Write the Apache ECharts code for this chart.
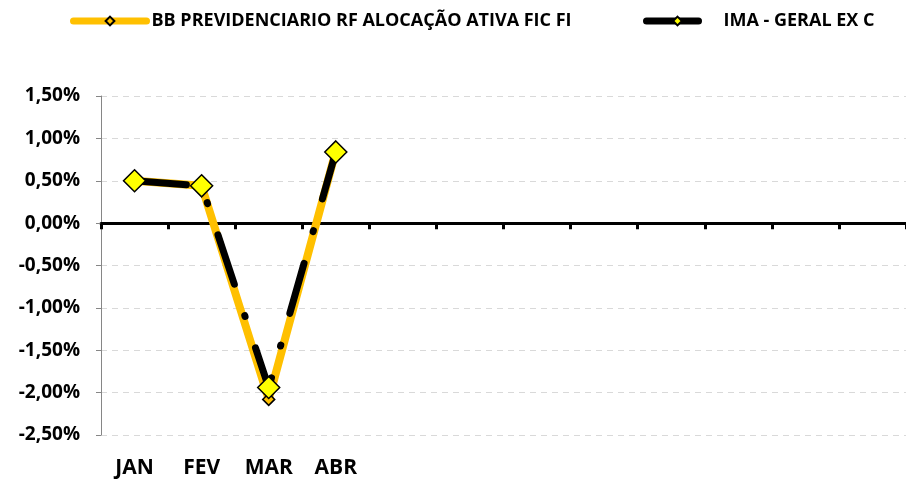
<!DOCTYPE html>
<html>
<head>
<meta charset="utf-8">
<script src="https://cdn.jsdelivr.net/npm/echarts@6/dist/echarts.min.js"></script>
<style>
  html, body { margin: 0; padding: 0; background: #fff; }
  #chart { width: 906px; height: 479px; }
</style>
</head>
<body>
<div id="chart"></div>
<script>
var months = ["JAN", "FEV", "MAR", "ABR", "", "", "", "", "", "", "", ""];
var bbName = "BB PREVIDENCIARIO RF ALOCAÇÃO ATIVA FIC FI";
var imaName = "IMA - GERAL EX C";
var bbValues = [0.50, 0.44, -2.08, 0.85];
var imaValues = [0.50, 0.44, -1.94, 0.84];

var font = "Open Sans";
var legendText = { fontFamily: font, fontWeight: "bold", fontSize: 18, color: "#000" };

var myChart = echarts.init(document.getElementById("chart"));

var option = {
  animation: false,
  legend: [
    {
      top: 12,
      left: 70,
      padding: 0,
      itemWidth: 73,
      itemHeight: 11,
      lineStyle: { width: 7, cap: "round" },
      textStyle: legendText,
      data: [bbName]
    },
    {
      top: 12,
      left: 643,
      padding: 0,
      itemWidth: 62,
      itemHeight: 11,
      lineStyle: { width: 7, cap: "round" },
      textStyle: Object.assign({ padding: [0, 0, 0, 10] }, legendText),
      data: [imaName]
    }
  ],
  grid: { left: 101, right: -3, top: 96, bottom: 44 },
  xAxis: [
    {
      type: "category",
      data: months,
      position: "bottom",
      axisLine: { show: false, onZero: false },
      axisTick: { show: false },
      axisLabel: {
        interval: 0,
        margin: 23,
        fontFamily: font,
        fontWeight: "bold",
        fontSize: 21,
        color: "#000"
      }
    },
    {
      type: "category",
      data: months,
      position: "bottom",
      axisLine: { show: true, onZero: true, lineStyle: { color: "#000", width: 3 } },
      axisTick: { show: true, interval: 0, length: 6, lineStyle: { color: "#000", width: 3 } },
      axisLabel: { show: false }
    }
  ],
  yAxis: {
    type: "value",
    min: -2.5,
    max: 1.5,
    interval: 0.5,
    axisLine: { show: true, lineStyle: { color: "#868686", width: 1 } },
    axisTick: { show: true, length: 5, lineStyle: { color: "#868686" } },
    splitLine: { show: true, lineStyle: { color: "#d9d9d9", type: [6, 5], width: 1 } },
    axisLabel: {
      margin: 21,
      fontFamily: font,
      fontWeight: "bold",
      fontSize: 19,
      color: "#000",
      formatter: function (v) { return v.toFixed(2).replace(".", ",") + "%"; }
    }
  },
  series: [
    {
      name: bbName,
      type: "line",
      data: bbValues,
      symbol: "diamond",
      symbolSize: 12,
      lineStyle: { color: "#FFC000", width: 8, cap: "round", join: "round" },
      itemStyle: { color: "#FFC000", borderColor: "#000", borderWidth: 1.5 }
    },
    {
      name: imaName,
      type: "line",
      data: imaValues,
      symbol: "diamond",
      symbolSize: 22,
      lineStyle: { color: "#000", width: 7, type: [52, 33, 1, 33], cap: "round", join: "round" },
      itemStyle: { color: "#FFFF00", borderColor: "#000", borderWidth: 1.5 }
    }
  ]
};

myChart.setOption(option);
</script>
</body>
</html>
